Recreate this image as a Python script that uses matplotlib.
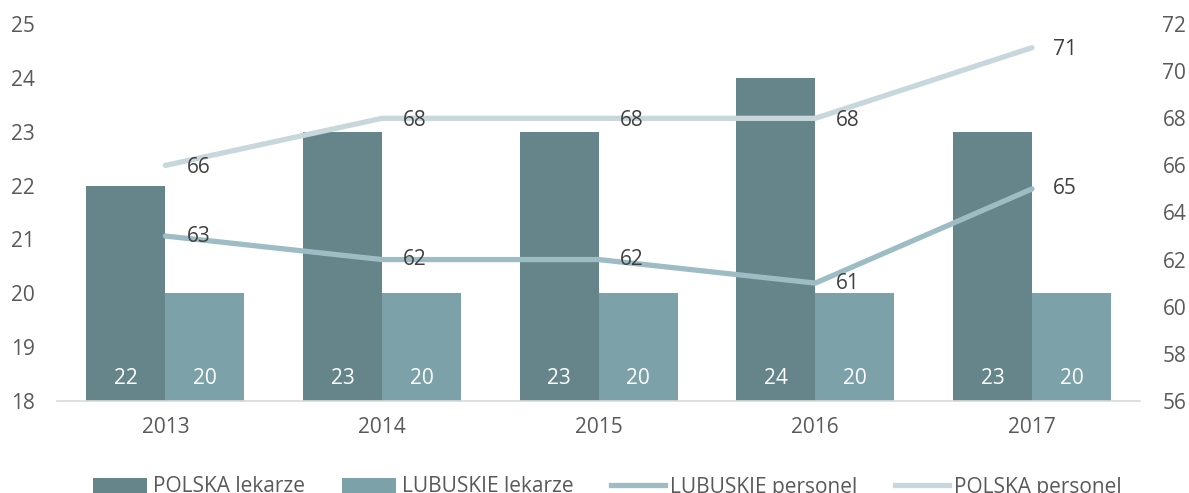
import matplotlib.pyplot as plt
import numpy as np
from matplotlib.lines import Line2D
from matplotlib.patches import Patch

plt.rcParams['font.family'] = ['Open Sans', 'DejaVu Sans']

years = ['2013', '2014', '2015', '2016', '2017']
polska_lekarze = [22, 23, 23, 24, 23]
lubuskie_lekarze = [20, 20, 20, 20, 20]
lubuskie_personel = [63, 62, 62, 61, 65]
polska_personel = [66, 68, 68, 68, 71]

c_pl_bar = '#65858a'
c_lb_bar = '#7ca1a9'
c_lb_line = '#9dbcc4'
c_pl_line = '#c8d7dc'
txt = '#404040'
tick_c = '#595959'
fs = 15

fig = plt.figure(figsize=(11.89, 4.93), dpi=100)
ax = fig.add_axes([0.048, 0.187, 0.911, 0.764])
ax2 = ax.twinx()

x = np.arange(len(years))
w = 0.365
ax.bar(x - w/2, np.array(polska_lekarze) - 18, w, bottom=18, color=c_pl_bar)
ax.bar(x + w/2, np.array(lubuskie_lekarze) - 18, w, bottom=18, color=c_lb_bar)
for i in range(len(years)):
    ax.text(x[i] - w/2, 18.42, str(polska_lekarze[i]), color='white', ha='center', va='center', fontsize=fs)
    ax.text(x[i] + w/2, 18.42, str(lubuskie_lekarze[i]), color='white', ha='center', va='center', fontsize=fs)

ax2.plot(x, lubuskie_personel, color=c_lb_line, lw=3.8, solid_capstyle='round')
ax2.plot(x, polska_personel, color=c_pl_line, lw=3.8, solid_capstyle='round')
for i in range(len(years)):
    ax2.annotate(str(lubuskie_personel[i]), (x[i], lubuskie_personel[i]), xytext=(21, 0),
                 textcoords='offset pixels', ha='left', va='center', fontsize=fs, color=txt)
    ax2.annotate(str(polska_personel[i]), (x[i], polska_personel[i]), xytext=(21, -2),
                 textcoords='offset pixels', ha='left', va='center', fontsize=fs, color=txt)

ax.set_xlim(-0.5, len(years) - 0.5)
ax.set_ylim(18, 25)
ax2.set_ylim(56, 72)
ax.set_yticks(range(18, 26))
ax2.set_yticks(range(56, 73, 2))
ax.set_xticks(x)
ax.set_xticklabels(years)

for a in (ax, ax2):
    for s in a.spines.values():
        s.set_visible(False)
    a.tick_params(length=0, labelsize=fs, colors=tick_c)
ax.spines['bottom'].set_visible(True)
ax.spines['bottom'].set_color('#d9d9d9')
ax.spines['bottom'].set_linewidth(1.2)
ax.tick_params(axis='y', pad=16)
ax.tick_params(axis='x', pad=12)
ax2.tick_params(axis='y', pad=16)

handles = [
    Patch(facecolor=c_pl_bar, label='POLSKA lekarze'),
    Patch(facecolor=c_lb_bar, label='LUBUSKIE lekarze'),
    Line2D([], [], color=c_lb_line, lw=3.8, label='LUBUSKIE personel'),
    Line2D([], [], color=c_pl_line, lw=3.8, label='POLSKA personel'),
]
fig.legend(handles=handles, loc='center', bbox_to_anchor=(0.511, 1 - 487/493), ncol=4,
           frameon=False, fontsize=fs, labelcolor=tick_c, columnspacing=1.8,
           handlelength=2.6, handletextpad=0.25)

fig.savefig('out.png', dpi=100)
